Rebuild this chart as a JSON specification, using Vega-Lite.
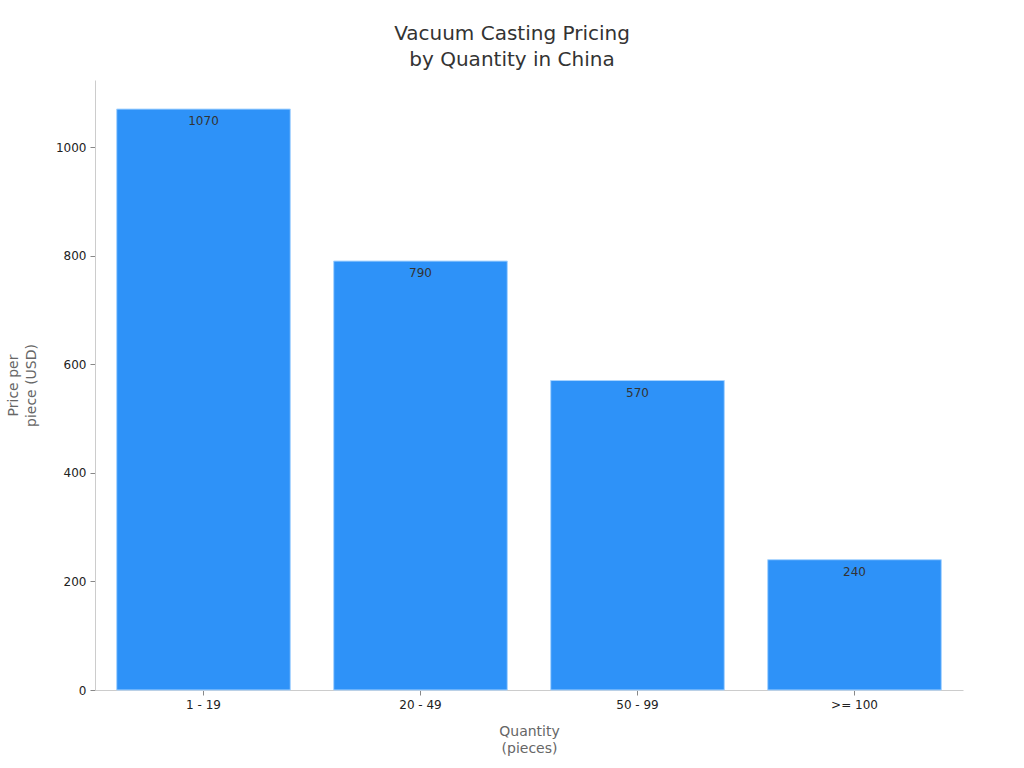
{
  "$schema": "https://vega.github.io/schema/vega-lite/v6.json",
  "width": 868,
  "height": 610,
  "autosize": {"type": "none"},
  "padding": {"left": 95, "top": 80, "right": 61, "bottom": 78},
  "background": "white",
  "title": {
    "text": ["Vacuum Casting Pricing", "by Quantity in China"],
    "font": "DejaVu Sans",
    "fontSize": 20,
    "fontWeight": "normal",
    "color": "#333333",
    "lineHeight": 26,
    "offset": 10,
    "dx": -17
  },
  "data": {
    "values": [
      {"quantity": "1 - 19", "price": 1070},
      {"quantity": "20 - 49", "price": 790},
      {"quantity": "50 - 99", "price": 570},
      {"quantity": ">= 100", "price": 240}
    ]
  },
  "encoding": {
    "x": {
      "field": "quantity",
      "type": "nominal",
      "sort": null,
      "title": ["Quantity", "(pieces)"],
      "scale": {"paddingInner": 0.2, "paddingOuter": 0.1},
      "axis": {"labelAngle": 0, "titlePadding": 14, "titleLineHeight": 17}
    },
    "y": {
      "field": "price",
      "type": "quantitative",
      "title": ["Price per", "piece (USD)"],
      "scale": {"domain": [0, 1123.5], "nice": false},
      "axis": {"grid": false, "format": "d", "values": [0, 200, 400, 600, 800, 1000], "titlePadding": 17, "titleLineHeight": 18}
    }
  },
  "layer": [
    {
      "mark": {"type": "bar", "color": "#2e92f8", "stroke": "#a8d4ff", "strokeWidth": 1}
    },
    {
      "mark": {"type": "text", "baseline": "middle", "dy": 12, "fontSize": 12, "color": "#333333", "font": "DejaVu Sans"},
      "encoding": {"text": {"field": "price", "type": "quantitative"}}
    }
  ],
  "config": {
    "view": {"stroke": null},
    "axis": {
      "labelFont": "DejaVu Sans",
      "titleFont": "DejaVu Sans",
      "labelFontSize": 12,
      "titleFontSize": 14,
      "titleFontWeight": "normal",
      "labelColor": "#222222",
      "titleColor": "#666666",
      "domainColor": "#cccccc",
      "tickColor": "#888888",
      "tickSize": 5,
      "labelPadding": 4
    }
  }
}
